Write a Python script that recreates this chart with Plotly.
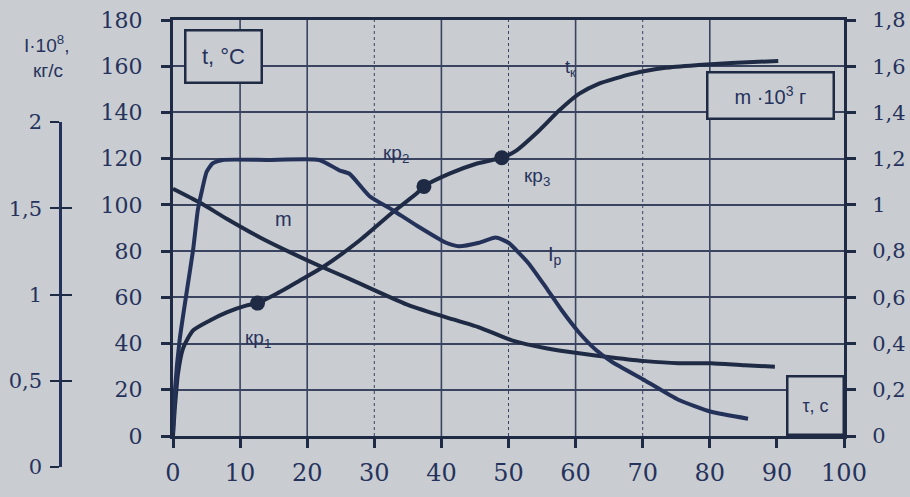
import plotly.graph_objects as go

# ---- data -------------------------------------------------------------
# temperature t, °C versus time tau, s
tau_t = [0, 0.3, 0.74, 1.5, 3.0, 5.5, 8.0, 11.0, 12.6, 15.5, 18.9, 22.3, 27.8,
         32.7, 36.3, 37.4, 41.2, 45.2, 49.0, 51.1, 54.5, 57.5, 60.5, 63.4,
         68.4, 73.4, 78.3, 83.2, 90.2]
temp = [0, 13, 27, 38, 45.7, 50, 53.5, 56.5, 57.5, 61.7, 67.3, 73, 84.6,
        96.7, 104.9, 108, 113.5, 117.8, 120.4, 123.4, 132, 140.7, 148, 152.4,
        156.7, 159.3, 160.5, 161.4, 162.3]

# mass m·10^3, g
tau_m = [0, 4.0, 8.0, 12.9, 17.8, 22.3, 26.3, 34.8, 40.0, 45.6, 50.5, 55.6,
         60.5, 65.4, 70.4, 75.3, 80.2, 85.2, 89.7]
mass = [1.07, 1.01, 0.94, 0.86, 0.79, 0.73, 0.68, 0.57, 0.52, 0.47, 0.414,
        0.38, 0.358, 0.34, 0.324, 0.315, 0.315, 0.306, 0.30]

# current I·10^8, kg/s
tau_i = [0, 0.3, 1.0, 2.1, 3.0, 3.7, 4.3, 5.0, 5.9, 7.4, 14.0, 21.8, 24.8,
         26.3, 29.3, 32.7, 36.3, 40.7, 42.6, 45.6, 48.1, 50.0, 53.0, 55.6,
         57.9, 60.5, 63.0, 65.4, 70.4, 75.3, 80.2, 85.7]
current = [0.20, 0.45, 0.74, 1.03, 1.26, 1.49, 1.60, 1.71, 1.76, 1.78, 1.78,
           1.78, 1.72, 1.70, 1.57, 1.49, 1.40, 1.30, 1.28, 1.30, 1.33, 1.30,
           1.18, 1.04, 0.91, 0.78, 0.68, 0.61, 0.50, 0.39, 0.32, 0.28]

# critical points on the temperature curve
kp_tau = [12.6, 37.4, 49.0]
kp_temp = [57.5, 108, 120.4]
kp_names = ["кр<sub>1</sub>", "кр<sub>2</sub>", "кр<sub>3</sub>"]

# axis ticks
x_ticks = list(range(0, 101, 10))
x_grid = [10, 20, 40, 60, 80]
x_grid_faint = [30, 50, 70]
t_ticks = list(range(0, 181, 20))
m_ticks = [0, 0.2, 0.4, 0.6, 0.8, 1.0, 1.2, 1.4, 1.6, 1.8]
m_labels = ["0", "0,2", "0,4", "0,6", "0,8", "1", "1,2", "1,4", "1,6", "1,8"]
i_ticks = [0, 0.5, 1, 1.5, 2]
i_labels = ["0", "0,5", "1", "1,5", "2"]

# ---- style ------------------------------------------------------------
BG = "#c9cdd1"
INK = "#1f2a44"
TXT = "#26325c"
GRID = "#3a4460"
SERIF = "DejaVu Serif"
SANS = "Liberation Sans"
CLEAR = "rgba(0,0,0,0)"

W, H = 910, 497
L, R, T, B = 60, 66, 20, 30
plot_w = W - L - R
plot_h = H - T - B
x_left = (173 - L) / plot_w          # plot box starts right of the I axis
y_bottom = (467 - 436) / plot_h      # main box bottom above the I-axis zero
i_top = (467 - 122) / plot_h

fig = go.Figure()

fig.add_trace(go.Scatter(x=tau_i, y=current, xaxis="x", yaxis="y3", mode="lines",
                         line=dict(color="#24325a", width=4, shape="spline", smoothing=0.5),
                         hoverinfo="skip", showlegend=False))
fig.add_trace(go.Scatter(x=tau_m, y=mass, xaxis="x", yaxis="y2", mode="lines",
                         line=dict(color=INK, width=4, shape="spline", smoothing=0.6),
                         hoverinfo="skip", showlegend=False))
fig.add_trace(go.Scatter(x=tau_t, y=temp, xaxis="x", yaxis="y", mode="lines",
                         line=dict(color=INK, width=4, shape="spline", smoothing=0.6),
                         hoverinfo="skip", showlegend=False))
fig.add_trace(go.Scatter(x=kp_tau, y=kp_temp, xaxis="x", yaxis="y", mode="markers",
                         marker=dict(color=INK, size=15),
                         hoverinfo="skip", showlegend=False))
# companion axis carrying the inner half of the crossing ticks
fig.add_trace(go.Scatter(x=[], y=[], xaxis="x", yaxis="y4", showlegend=False))

shapes = []
for v in x_grid:
    shapes.append(dict(type="line", xref="x", yref="y", x0=v, x1=v, y0=0, y1=180,
                       line=dict(color=GRID, width=1.6), layer="below"))
for v in x_grid_faint:
    shapes.append(dict(type="line", xref="x", yref="y", x0=v, x1=v, y0=0, y1=180,
                       line=dict(color=GRID, width=1, dash="dot"), layer="below"))

annotations = [
    dict(text="t, °C", xref="x", yref="y", x=1.6, y=176, xanchor="left", yanchor="top",
         showarrow=False, font=dict(family=SANS, size=22, color=TXT),
         bordercolor=INK, borderwidth=2.5, borderpad=6, bgcolor=BG, width=62, height=38),
    dict(text="m ·10<sup>3</sup> г", xref="x", yref="y", x=79.5, y=158, xanchor="left",
         yanchor="top", showarrow=False, font=dict(family=SANS, size=20, color=TXT),
         bordercolor=INK, borderwidth=2.5, borderpad=4, bgcolor=BG, width=116, height=36),
    dict(text="τ, c", xref="x", yref="y", x=91.3, y=0, xanchor="left", yanchor="bottom",
         showarrow=False, font=dict(family=SANS, size=18, color=TXT),
         bordercolor=INK, borderwidth=2.5, borderpad=4, bgcolor=BG, width=46, height=48),
    dict(text="I·10<sup>8</sup>,", xref="paper", yref="paper", x=-0.0, y=1.0,
         xanchor="center", yanchor="top", yshift=-10, xshift=-14, showarrow=False,
         font=dict(family=SANS, size=19, color=TXT)),
    dict(text="кг/с", xref="paper", yref="paper", x=-0.0, y=1.0,
         xanchor="center", yanchor="top", yshift=-38, xshift=-12, showarrow=False,
         font=dict(family=SANS, size=19, color=TXT)),
    dict(text="m", xref="x", yref="y", x=16.4, y=94, showarrow=False,
         font=dict(family=SANS, size=20, color=TXT)),
    dict(text="I<sub>р</sub>", xref="x", yref="y", x=57.0, y=78, showarrow=False,
         font=dict(family=SANS, size=20, color=TXT)),
    dict(text="t<sub>к</sub>", xref="x", yref="y", x=59.3, y=159, showarrow=False,
         font=dict(family=SANS, size=18, color=TXT)),
]
label_pos = [(12.6, 42), (33.2, 122), (54.2, 112)]
for (lx, ly), name in zip(label_pos, kp_names):
    annotations.append(dict(text=name, xref="x", yref="y", x=lx, y=ly, showarrow=False,
                            font=dict(family=SANS, size=19, color=TXT)))

fig.update_layout(
    width=W, height=H,
    margin=dict(l=L, r=R, t=T, b=B, pad=0, autoexpand=False),
    paper_bgcolor=BG, plot_bgcolor=CLEAR,
    showlegend=False,
    xaxis=dict(domain=[x_left, 1], range=[0, 100], anchor="y", automargin=False,
               tickmode="array", tickvals=x_ticks, ticktext=[str(v) for v in x_ticks],
               ticks="outside", ticklen=9, tickwidth=2.5, tickcolor=INK,
               showline=True, linecolor=INK, linewidth=3, mirror=True,
               showgrid=False, zeroline=False, ticklabelstandoff=4,
               tickfont=dict(family=SERIF, size=24, color=TXT)),
    yaxis=dict(domain=[y_bottom, 1], range=[0, 180], anchor="x", automargin=False,
               tickmode="array", tickvals=t_ticks,
               ticks="outside", ticklen=9, tickwidth=2.5, tickcolor=INK,
               showline=True, linecolor=INK, linewidth=3,
               showgrid=True, gridcolor=GRID, gridwidth=1.6, zeroline=False,
               ticklabelstandoff=14,
               tickfont=dict(family=SERIF, size=22, color=TXT)),
    yaxis2=dict(overlaying="y", side="right", anchor="x", range=[0, 1.8],
                automargin=False,
                tickmode="array", tickvals=m_ticks, ticktext=m_labels,
                ticks="outside", ticklen=9, tickwidth=2.5, tickcolor=INK,
                showline=True, linecolor=INK, linewidth=3,
                showgrid=False, zeroline=False, ticklabelstandoff=12,
                tickfont=dict(family=SERIF, size=21, color=TXT)),
    yaxis3=dict(domain=[0, i_top], range=[0, 2], anchor="free", position=0,
                automargin=False,
                tickmode="array", tickvals=i_ticks, ticktext=i_labels,
                ticks="outside", ticklen=9, tickwidth=2, tickcolor=INK,
                showline=True, linecolor="#24325a", linewidth=2.5,
                showgrid=False, zeroline=False, ticklabelstandoff=4,
                tickfont=dict(family=SERIF, size=21, color=TXT)),
    yaxis4=dict(overlaying="y3", anchor="free", position=0, range=[0, 2],
                automargin=False,
                tickmode="array", tickvals=i_ticks, showticklabels=False,
                ticks="inside", ticklen=11, tickwidth=2, tickcolor=INK,
                showline=False, showgrid=False, zeroline=False),
    shapes=shapes,
    annotations=annotations,
)

fig.write_html("out.html", config={"displayModeBar": False})
